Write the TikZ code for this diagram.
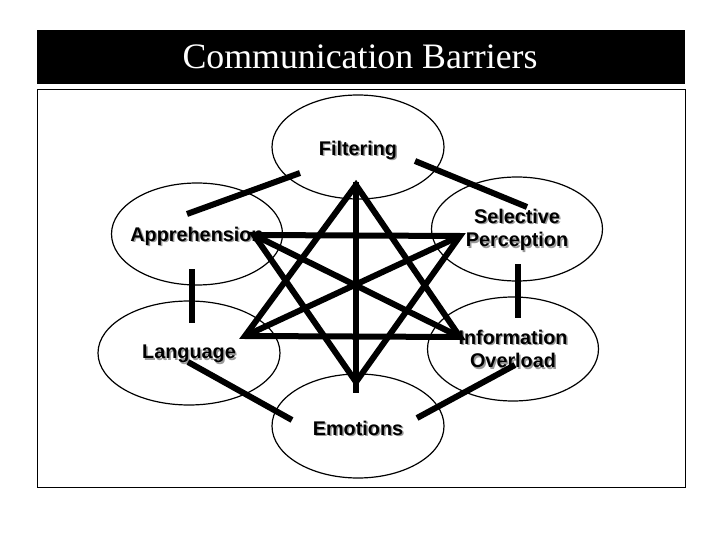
\documentclass[tikz,border=0pt]{standalone}
\usepackage{fontspec}
\setmainfont{Liberation Serif}
\newfontfamily\labfont{Liberation Sans}
\usetikzlibrary{shapes.geometric}
\tikzset{
  bubble/.style={draw,ellipse,line width=1.2pt,inner sep=0pt,minimum width=172pt,minimum height=104pt},
  lab/.style={font=\labfont\bfseries\fontsize{19.8}{23.5}\selectfont,align=center,inner sep=0pt},
  labsh/.style={lab,text=black!40},
  bar/.style={line width=6pt,line cap=butt},
  starline/.style={line width=6pt,line join=miter}
}
\begin{document}
\begin{tikzpicture}[x=1pt,y=-1pt]
\useasboundingbox (0,0) rectangle (720,540);
\fill[white] (0,0) rectangle (720,540);
% title bar
\node[fill=black,minimum width=648pt,minimum height=54pt,inner sep=0pt] (titlebar) at (361,57) {};
\node[text=white,font=\fontsize{35.8}{40}\selectfont,inner sep=0pt] (title) at (360,57) {Communication Barriers};
% frame
\node[draw,line width=1pt,minimum width=648pt,minimum height=397pt,inner sep=0pt] (frame) at (361,288.5) {};
% ellipses
\node[bubble] (fil) at (358,147) {};
\node[bubble,minimum width=171pt,minimum height=102pt] (app) at (197,234) {};
\node[bubble,minimum width=171pt,minimum height=104pt] (sel) at (517,229) {};
\node[bubble,minimum width=182pt,minimum height=104pt] (lan) at (189,353) {};
\node[bubble,minimum width=171pt,minimum height=104pt] (inf) at (513,349) {};
\node[bubble] (emo) at (358,426) {};
% labels with shadows
\node[labsh] (filS) at (359.5,151.5) {Filtering};
\node[lab] (filT) at (358,150) {Filtering};
\node[labsh] (appS) at (198.5,237.5) {Apprehension};
\node[lab] (appT) at (197,236) {Apprehension};
\node[labsh] (selS) at (518.5,231.5) {Selective\\Perception};
\node[lab] (selT) at (517,230) {Selective\\Perception};
\node[labsh] (lanS) at (190.5,355.5) {Language};
\node[lab] (lanT) at (189,354) {Language};
\node[labsh] (infS) at (514.5,350.5) {Information\\Overload};
\node[lab] (infT) at (513,349) {Information\\Overload};
\node[labsh] (emoS) at (359.5,429.5) {Emotions};
\node[lab] (emoT) at (358,428) {Emotions};
% outer connector ends
\coordinate (fa1) at (300,173); \coordinate (fa2) at (187,214);
\coordinate (fs1) at (415,161); \coordinate (fs2) at (527,207);
\coordinate (al1) at (192,269); \coordinate (al2) at (192,323);
\coordinate (si1) at (518,264); \coordinate (si2) at (518,318);
\coordinate (le1) at (188,362); \coordinate (le2) at (292,420);
\coordinate (ei1) at (417,418); \coordinate (ei2) at (515,365);
\draw[bar] (fa1) -- (fa2);
\draw[bar] (fs1) -- (fs2);
\draw[bar] (al1) -- (al2);
\draw[bar] (si1) -- (si2);
\draw[bar] (le1) -- (le2);
\draw[bar] (ei1) -- (ei2);
% star vertices
\coordinate (T) at (356,185);
\coordinate (B) at (356,382);
\coordinate (A) at (254,235);
\coordinate (S) at (460,236);
\coordinate (L) at (245,336);
\coordinate (I) at (460,337);
\coordinate (vt) at (356,182);
\coordinate (vb) at (356,393);
\draw[starline] (T) -- (L) -- (I) -- cycle;
\draw[starline] (B) -- (A) -- (S) -- cycle;
\draw[starline] (A) -- (I);
\draw[starline] (S) -- (L);
\draw[starline] (vt) -- (vb);
\end{tikzpicture}
\end{document}
